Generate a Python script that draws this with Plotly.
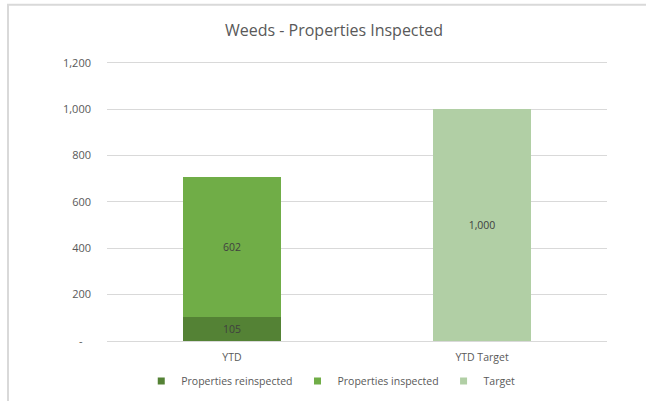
import plotly.graph_objects as go

# Chart data
categories = ["YTD", "YTD Target"]
reinspected = [105, None]
inspected = [602, None]
target = [None, 1000]

y_ticks = [0, 200, 400, 600, 800, 1000, 1200]
y_tick_labels = ["-\u00a0\u00a0\u00a0", "200", "400", "600", "800", "1,000", "1,200"]

FONT = "'Open Sans', Lato, sans-serif"
TEXT_GREY = "#595959"

fig = go.Figure()

series = [
    ("Properties reinspected", reinspected, "#548235"),
    ("Properties inspected", inspected, "#70AD47"),
    ("Target", target, "#B1CFA5"),
]
for name, values, color in series:
    fig.add_trace(go.Bar(
        name=name,
        x=categories,
        y=values,
        showlegend=False,
        marker=dict(color=color, line=dict(width=0)),
        texttemplate="%{y:,}",
        textposition="inside",
        insidetextanchor="middle",
        textangle=0,
        textfont=dict(family=FONT, size=10.5, color="#404040"),
        constraintext="none",
        hoverinfo="skip",
    ))

# small square legend keys
for name, _, color in series:
    fig.add_trace(go.Scatter(
        name=name,
        x=[None],
        y=[None],
        mode="markers",
        marker=dict(symbol="square", size=7, color=color),
        showlegend=True,
    ))

fig.update_layout(
    width=646,
    height=401,
    barmode="stack",
    bargap=0.605,
    paper_bgcolor="white",
    plot_bgcolor="white",
    margin=dict(l=107, r=39, t=61, b=60, autoexpand=False),
    title=dict(
        text="Weeds - Properties Inspected",
        x=0.517, xanchor="center",
        y=0.923, yanchor="middle",
        font=dict(family=FONT, size=16, color=TEXT_GREY),
    ),
    font=dict(family=FONT, color=TEXT_GREY),
    showlegend=True,
    legend=dict(
        orientation="h",
        xref="container", yref="container",
        x=0.512, xanchor="center",
        y=0.05, yanchor="middle",
        font=dict(family=FONT, size=10.5, color=TEXT_GREY),
        itemwidth=30,
        traceorder="normal",
    ),
    xaxis=dict(
        type="category",
        showgrid=False,
        showline=True,
        linecolor="#D9D9D9",
        linewidth=1,
        ticks="",
        ticklabelstandoff=6,
        tickfont=dict(family=FONT, size=10.5, color=TEXT_GREY),
    ),
    yaxis=dict(
        range=[0, 1208],
        tickvals=y_ticks,
        ticktext=y_tick_labels,
        showgrid=True,
        gridcolor="#D9D9D9",
        gridwidth=1,
        zeroline=False,
        showline=False,
        ticks="",
        ticklabelstandoff=15,
        tickfont=dict(family=FONT, size=11, color=TEXT_GREY),
    ),
    shapes=[
        # chart frame: top and left edges
        dict(type="line", xref="paper", yref="paper",
             x0=-0.2, x1=1.1, y0=1.2011, y1=1.2011,
             line=dict(color="#D9D9D9", width=2)),
        dict(type="line", xref="paper", yref="paper",
             x0=-0.198, x1=-0.198, y0=1.2011, y1=-0.22,
             line=dict(color="#D9D9D9", width=2)),
    ],
)

fig.write_html("out.html", config={"displayModeBar": False})
